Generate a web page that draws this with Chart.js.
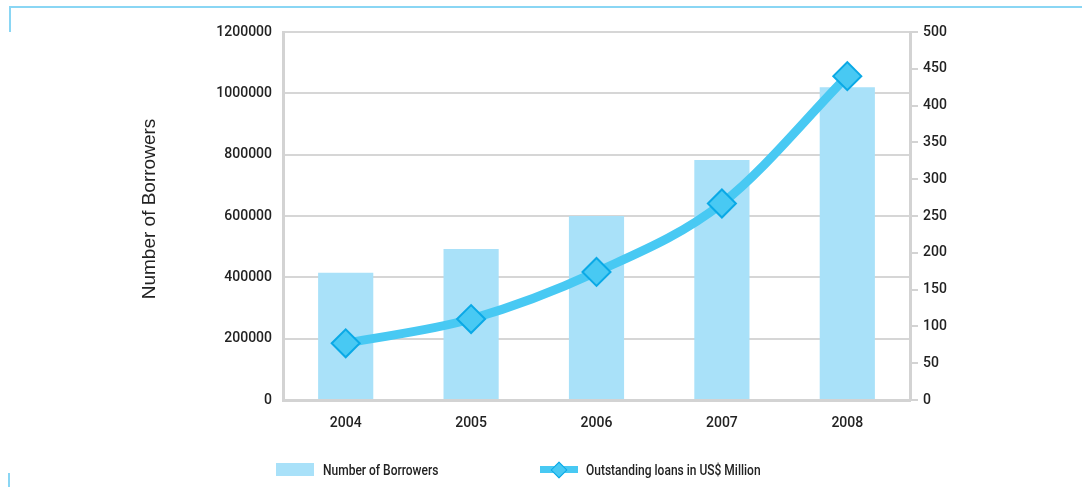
<!DOCTYPE html>
<html>
<head>
<meta charset="utf-8">
<title>Number of Borrowers / Outstanding loans</title>
<script src="https://cdn.jsdelivr.net/npm/chart.js@4.4.1/dist/chart.umd.min.js"></script>
<style>
    html, body { margin: 0; padding: 0; background: #fff; }
    #wrap { position: relative; width: 1082px; height: 487px; overflow: hidden; }
    #combo-chart { position: absolute; left: 0; top: 0; }
    .frame { position: absolute; background: #8ad6f4; }
    .legend-item { position: absolute; top: 461px; height: 17px; display: flex; align-items: center;
                   font-family: Roboto, sans-serif; font-size: 15px; font-weight: 500; color: #222; white-space: nowrap; }
    .legend-item span { display: inline-block; transform: scaleX(0.8); transform-origin: left center; }
    .swatch-bar { width: 38px; height: 13px; margin-right: 9px; }
    .swatch-line { position: relative; width: 38px; height: 7px; margin-right: 8px; }
    .swatch-line i { position: absolute; left: 13px; top: -2.5px; width: 12px; height: 12px;
                     transform: rotate(45deg); box-sizing: border-box; border: 1.5px solid; }
</style>
</head>
<body>
<div id="wrap">
    <div class="frame" style="left:9px; top:6px; width:1073px; height:2px;"></div>
    <div class="frame" style="left:9px; top:6px; width:2px; height:26px;"></div>
    <div class="frame" style="left:8px; top:473px; width:2px; height:14px;"></div>
    <canvas id="combo-chart" width="1082" height="487"></canvas>
    <div id="legend"></div>
</div>
<script>
// Dados do gráfico
var years = ['2004', '2005', '2006', '2007', '2008'];
var borrowers = [415000, 492000, 600000, 783000, 1020000];
var loans = [77, 110, 174, 267, 440];
var borrowerTicks = [0, 200000, 400000, 600000, 800000, 1000000, 1200000];
var loanTicks = [0, 50, 100, 150, 200, 250, 300, 350, 400, 450, 500];
var borrowersLabel = 'Number of Borrowers';
var loansLabel = 'Outstanding loans in US$ Million';

var comboChart = null;

var tickFont = { family: 'Roboto', size: 14, weight: '500' };
var tickColor = '#222';
var axisColor = '#d3d3d3';

/**
 * Desenha o título do eixo esquerdo, girado
 */
var axisTitle = {
    id: 'axisTitle',
    afterDraw: function(chart) {
        var area = chart.chartArea,
            ctx = chart.ctx;
        ctx.save();
        ctx.translate(area.left - 133, (area.top + area.bottom) / 2 - 7);
        ctx.rotate(-Math.PI / 2);
        ctx.font = '19px "Liberation Sans", Arial, sans-serif';
        ctx.fillStyle = '#222';
        ctx.textAlign = 'center';
        ctx.textBaseline = 'middle';
        ctx.fillText(borrowersLabel, 0, 0);
        ctx.restore();
    }
};

/**
 * Monta os ticks fixos de um eixo
 * @param {array} values
 */
function fixedTicks(values) {
    return function(scale) {
        scale.ticks = values.map(function(v) { return { value: v }; });
    };
}

/**
 * Retorna os datasets do gráfico
 */
function comboChartData() {
    return {
        labels: years,
        datasets: [{
            type: 'line',
            label: loansLabel,
            data: loans,
            yAxisID: 'y1',
            order: 0,
            borderColor: '#48c9f3',
            borderWidth: 9,
            cubicInterpolationMode: 'monotone',
            pointStyle: 'rectRot',
            pointRadius: 14,
            pointBackgroundColor: '#48c9f3',
            pointBorderColor: '#0aa9e6',
            pointBorderWidth: 2
        }, {
            type: 'bar',
            label: borrowersLabel,
            data: borrowers,
            yAxisID: 'y',
            order: 1,
            backgroundColor: '#a9e1f9',
            barPercentage: 0.44,
            categoryPercentage: 1.0
        }]
    };
}

/**
 * Preenche a legenda abaixo do gráfico
 * @param {object} chart
 */
function buildLegend(chart) {
    var lefts = { bar: 276, line: 540 };
    var html = '';
    chart.data.datasets.slice().reverse().forEach(function(ds) {
        var swatch = ds.type === 'bar'
            ? '<div class="swatch-bar" style="background:' + ds.backgroundColor + '"></div>'
            : '<div class="swatch-line" style="background:' + ds.borderColor + '"><i style="background:' +
              ds.pointBackgroundColor + ';border-color:' + ds.pointBorderColor + '"></i></div>';
        html += '<div class="legend-item" style="left:' + lefts[ds.type] + 'px">' + swatch +
                '<span>' + ds.label + '</span></div>';
    });
    document.getElementById('legend').innerHTML = html;
}

/**
 * Inicializa o gráfico de barras + linha
 */
function initComboChart() {
    comboChart = new Chart(document.getElementById('combo-chart'), {
        data: comboChartData(),
        plugins: [axisTitle],
        options: {
            responsive: false,
            animation: false,
            layout: { padding: { top: 32, left: 0, right: 0, bottom: 0 } },
            plugins: {
                legend: { display: false },
                tooltip: { enabled: false }
            },
            scales: {
                x: {
                    grid: { display: false, drawTicks: false },
                    border: { display: true, color: axisColor, width: 3 },
                    ticks: { padding: 15, color: tickColor, font: tickFont },
                    afterFit: function(s) { s.height = 87; }
                },
                y: {
                    position: 'left',
                    min: 0,
                    max: 1200000,
                    afterBuildTicks: fixedTicks(borrowerTicks),
                    grid: { color: '#d6d6d6', lineWidth: 2, drawTicks: false },
                    border: { color: axisColor, width: 3 },
                    ticks: {
                        padding: 11, color: tickColor, font: tickFont,
                        callback: function(v) { return String(v); }
                    },
                    afterFit: function(s) { s.width = 283; }
                },
                y1: {
                    position: 'right',
                    min: 0,
                    max: 500,
                    afterBuildTicks: fixedTicks(loanTicks),
                    grid: { drawOnChartArea: false, drawTicks: true, tickLength: 8, color: axisColor, lineWidth: 2 },
                    border: { color: axisColor, width: 3 },
                    ticks: { padding: 5, color: tickColor, font: tickFont },
                    afterFit: function(s) { s.width = 172; }
                }
            }
        }
    });
    buildLegend(comboChart);
}

initComboChart();
</script>
</body>
</html>
